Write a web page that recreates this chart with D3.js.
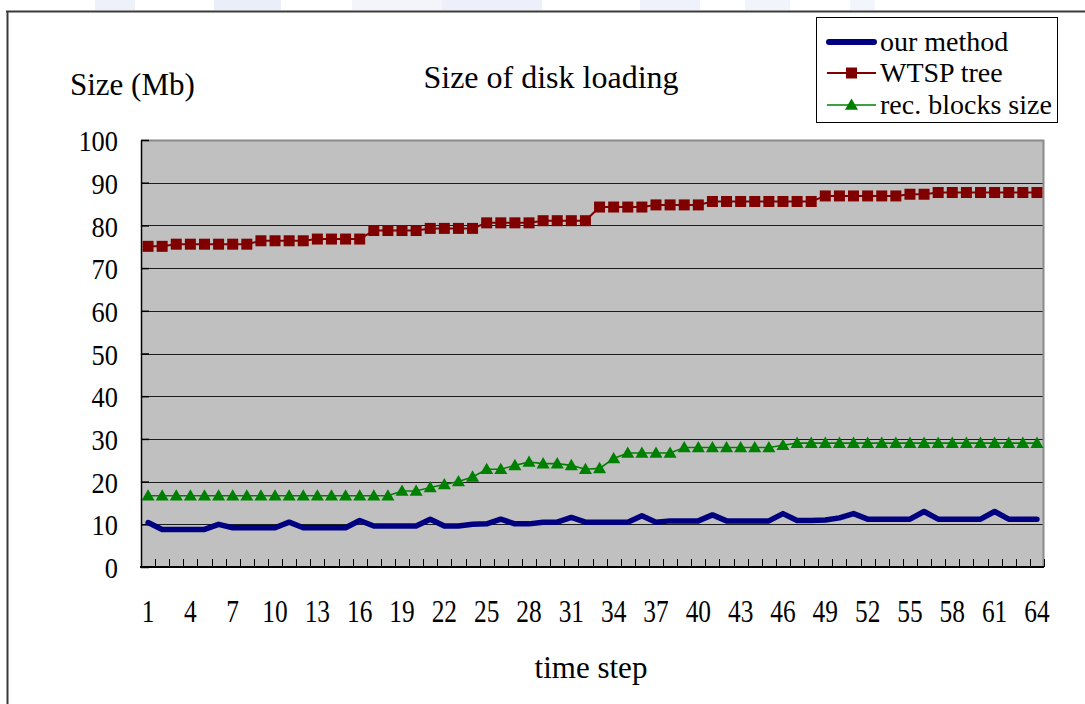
<!DOCTYPE html>
<html>
<head>
<meta charset="utf-8">
<script src="https://cdn.jsdelivr.net/npm/d3@7"></script>
<style>
  html, body { margin: 0; padding: 0; background: #ffffff; }
  svg { display: block; }
</style>
</head>
<body>
<svg id="chart" width="1085" height="704"></svg>
<script>
// Time steps 1..64
const steps = d3.range(1, 65);

// Labelled steps on the horizontal axis
const stepLabels = [1, 4, 7, 10, 13, 16, 19, 22, 25, 28, 31, 34, 37, 40, 43, 46, 49, 52, 55, 58, 61, 64];

// Vertical axis ticks (Mb)
const sizeTicks = [0, 10, 20, 30, 40, 50, 60, 70, 80, 90, 100];

// Disk loading of our method (Mb)
const ourMethod = [
  10.4, 8.8, 8.8, 8.8, 8.8, 10.0, 9.2, 9.2, 9.2, 9.2,
  10.5, 9.2, 9.2, 9.2, 9.2, 10.9, 9.6, 9.6, 9.6, 9.6,
  11.2, 9.6, 9.6, 10.0, 10.1, 11.2, 10.1, 10.1, 10.5, 10.5,
  11.6, 10.5, 10.5, 10.5, 10.5, 12.0, 10.5, 10.8, 10.8, 10.8,
  12.2, 10.8, 10.8, 10.8, 10.8, 12.5, 10.9, 10.9, 11.0, 11.5,
  12.5, 11.2, 11.2, 11.2, 11.2, 13.0, 11.2, 11.2, 11.2, 11.2,
  13.0, 11.2, 11.2, 11.2
];

// Disk loading of the WTSP tree (Mb)
const wtspTree = [
  75.1, 75.1, 75.6, 75.6, 75.6, 75.6, 75.6, 75.6, 76.4, 76.4,
  76.4, 76.4, 76.8, 76.8, 76.8, 76.8, 78.8, 78.8, 78.8, 78.8,
  79.3, 79.3, 79.3, 79.3, 80.6, 80.6, 80.6, 80.6, 81.1, 81.1,
  81.1, 81.1, 84.3, 84.3, 84.3, 84.3, 84.8, 84.8, 84.8, 84.8,
  85.6, 85.6, 85.6, 85.6, 85.6, 85.6, 85.6, 85.6, 86.9, 86.9,
  86.9, 86.9, 86.9, 86.9, 87.3, 87.3, 87.7, 87.7, 87.7, 87.7,
  87.7, 87.7, 87.7, 87.7
];

// Size of the reconstructed blocks (Mb)
const recBlocks = [
  16.7, 16.7, 16.7, 16.7, 16.7, 16.7, 16.7, 16.7, 16.7, 16.7,
  16.7, 16.7, 16.7, 16.7, 16.7, 16.7, 16.7, 16.7, 17.8, 17.8,
  18.6, 19.3, 20.0, 21.1, 22.9, 22.9, 23.8, 24.6, 24.2, 24.2,
  23.8, 22.9, 23.1, 25.4, 26.7, 26.7, 26.7, 26.7, 28.0, 28.0,
  28.0, 28.0, 28.0, 28.0, 28.0, 28.5, 29.0, 29.0, 29.0, 29.0,
  29.0, 29.0, 29.0, 29.0, 29.0, 29.0, 29.0, 29.0, 29.0, 29.0,
  29.0, 29.0, 29.0, 29.0
];

const seriesNames = ["our method", "WTSP tree", "rec. blocks size"];
const seriesColors = ["#000080", "#800000", "#008000"];

const SERIF = "'Times New Roman', 'Liberation Serif', 'DejaVu Serif', serif";

const svg = d3.select("#chart");

// Faint header band above the frame
const header = svg.append("g").attr("opacity", 0.3);
[[95, 40, "#c9d3f0"], [214, 67, "#bcc8ee"], [352, 90, "#d8dff5"], [442, 100, "#c4cef0"],
 [640, 60, "#ccd5f2"], [745, 45, "#d6ddf5"], [850, 25, "#d9e0f6"]].forEach(([x0, w, c]) => {
  header.append("rect").attr("x", x0).attr("y", 0).attr("width", w).attr("height", 10).attr("fill", c);
});

// Outer frame (top and left edges)
svg.append("line").attr("x1", 6).attr("x2", 1085).attr("y1", 11.5).attr("y2", 11.5)
  .attr("stroke", "#3a3a3a").attr("stroke-width", 2);
svg.append("line").attr("x1", 7.5).attr("x2", 7.5).attr("y1", 11).attr("y2", 704)
  .attr("stroke", "#3a3a3a").attr("stroke-width", 2);

const plot = { left: 141, right: 1044, top: 140, bottom: 567 };

const x = d3.scaleBand().domain(steps).range([plot.left, plot.right]).padding(0);
const cx = d => x(d) + x.bandwidth() / 2;
const y = d3.scaleLinear().domain([0, 100]).range([plot.bottom, plot.top]);

// Plot area background
svg.append("rect")
  .attr("x", plot.left).attr("y", plot.top)
  .attr("width", plot.right - plot.left).attr("height", plot.bottom - plot.top)
  .attr("fill", "#c0c0c0");

// Horizontal grid lines
svg.append("g").selectAll("line")
  .data(sizeTicks.filter(t => t > 0 && t < 100))
  .join("line")
  .attr("x1", plot.left).attr("x2", plot.right)
  .attr("y1", d => Math.round(y(d)) + 0.5).attr("y2", d => Math.round(y(d)) + 0.5)
  .attr("stroke", "#1c1c1c").attr("stroke-width", 1);

// Top and right borders of the plot area
svg.append("path")
  .attr("d", `M${plot.left},${plot.top + 0.5}H${plot.right - 0.5}V${plot.bottom}`)
  .attr("fill", "none").attr("stroke", "#8a8a8a").attr("stroke-width", 2);

// Vertical axis with inward ticks
const yAxis = svg.append("g")
  .attr("transform", `translate(${plot.left},0)`)
  .call(d3.axisLeft(y).tickValues(sizeTicks).tickSizeInner(-8).tickSizeOuter(0).tickPadding(22));
yAxis.attr("font-family", null).attr("font-size", null);
yAxis.select(".domain").attr("stroke", "#000").attr("stroke-width", 1.5);
yAxis.selectAll(".tick line").attr("stroke", "#000").attr("stroke-width", 1.5);
yAxis.selectAll(".tick text")
  .attr("x", null)
  .attr("transform", "translate(-23,1) scale(0.88,1)")
  .attr("font-family", SERIF)
  .style("font-family", SERIF)
  .style("font-size", "30px");

// Horizontal axis: labels at step centres
const xAxis = svg.append("g")
  .attr("transform", `translate(0,${plot.bottom})`)
  .call(d3.axisBottom(x).tickValues(stepLabels).tickSizeInner(0).tickSizeOuter(0).tickPadding(33));
xAxis.attr("font-family", null).attr("font-size", null);
xAxis.select(".domain").remove();
xAxis.selectAll(".tick text")
  .attr("transform", "scale(0.82,1)")
  .attr("font-family", SERIF)
  .style("font-family", SERIF)
  .style("font-size", "31px");

// Horizontal axis: tick marks between steps, pointing inwards
const boundaries = steps.map(d => x(d)).concat([x.range()[1]]);
svg.append("g").selectAll("line")
  .data(boundaries)
  .join("line")
  .attr("x1", d => Math.round(d) + 0.5).attr("x2", d => Math.round(d) + 0.5)
  .attr("y1", plot.bottom).attr("y2", plot.bottom - 8)
  .attr("stroke", "#000").attr("stroke-width", 1);
svg.append("line")
  .attr("x1", plot.left - 1).attr("x2", plot.right)
  .attr("y1", plot.bottom).attr("y2", plot.bottom)
  .attr("stroke", "#000").attr("stroke-width", 2);

// Series lines
const line = d3.line().x((d, i) => cx(steps[i])).y(d => y(d));

svg.append("path").datum(recBlocks)
  .attr("d", line).attr("fill", "none")
  .attr("stroke", seriesColors[2]).attr("stroke-width", 1.6);

svg.append("path").datum(wtspTree)
  .attr("d", line).attr("fill", "none")
  .attr("stroke", seriesColors[1]).attr("stroke-width", 2);

// WTSP markers: squares
const sq = 11;
svg.append("g").selectAll("rect")
  .data(wtspTree)
  .join("rect")
  .attr("x", (d, i) => cx(steps[i]) - sq / 2)
  .attr("y", d => y(d) - sq / 2)
  .attr("width", sq).attr("height", sq)
  .attr("fill", seriesColors[1]);

// Reconstructed block markers: triangles
const tri = d3.symbol().type(d3.symbolTriangle).size(74);
svg.append("g").selectAll("path")
  .data(recBlocks)
  .join("path")
  .attr("d", tri)
  .attr("transform", (d, i) => `translate(${cx(steps[i])},${y(d) + 1})`)
  .attr("fill", seriesColors[2]);

svg.append("path").datum(ourMethod)
  .attr("d", line).attr("fill", "none")
  .attr("stroke", seriesColors[0]).attr("stroke-width", 5.5)
  .attr("stroke-linejoin", "round").attr("stroke-linecap", "round");

// Titles
function label(xp, yp, size, txt, anchor) {
  svg.append("text").attr("x", xp).attr("y", yp)
    .attr("text-anchor", anchor || "start")
    .attr("font-family", SERIF).style("font-family", SERIF)
    .style("font-size", size + "px").attr("fill", "#000").text(txt);
}
label(70, 95, 31, "Size (Mb)");
label(551, 88, 32, "Size of disk loading", "middle");
label(591, 678, 31, "time step", "middle");

// Legend
const legend = svg.append("g");
legend.append("rect")
  .attr("x", 816.5).attr("y", 17.5).attr("width", 241).attr("height", 105)
  .attr("fill", "#ffffff").attr("stroke", "#000").attr("stroke-width", 1);

const rowY = [42, 73, 105];
seriesNames.forEach((name, i) => {
  const ly = rowY[i];
  const g = legend.append("g");
  if (i === 0) {
    g.append("line").attr("x1", 829).attr("x2", 874).attr("y1", ly).attr("y2", ly)
      .attr("stroke", seriesColors[0]).attr("stroke-width", 6).attr("stroke-linecap", "round");
  } else {
    g.append("line").attr("x1", 827).attr("x2", 876).attr("y1", ly).attr("y2", ly)
      .attr("stroke", seriesColors[i]).attr("stroke-width", i === 1 ? 2 : 1.6);
    if (i === 1) {
      g.append("rect").attr("x", 851.5 - sq / 2).attr("y", ly - sq / 2)
        .attr("width", sq).attr("height", sq).attr("fill", seriesColors[1]);
    } else {
      g.append("path").attr("d", tri).attr("transform", `translate(851.5,${ly + 1})`)
        .attr("fill", seriesColors[2]);
    }
  }
  g.append("text").attr("x", 880).attr("y", ly + 9)
    .attr("font-family", SERIF).style("font-family", SERIF)
    .style("font-size", "28px").attr("fill", "#000").text(name);
});
</script>
</body>
</html>
